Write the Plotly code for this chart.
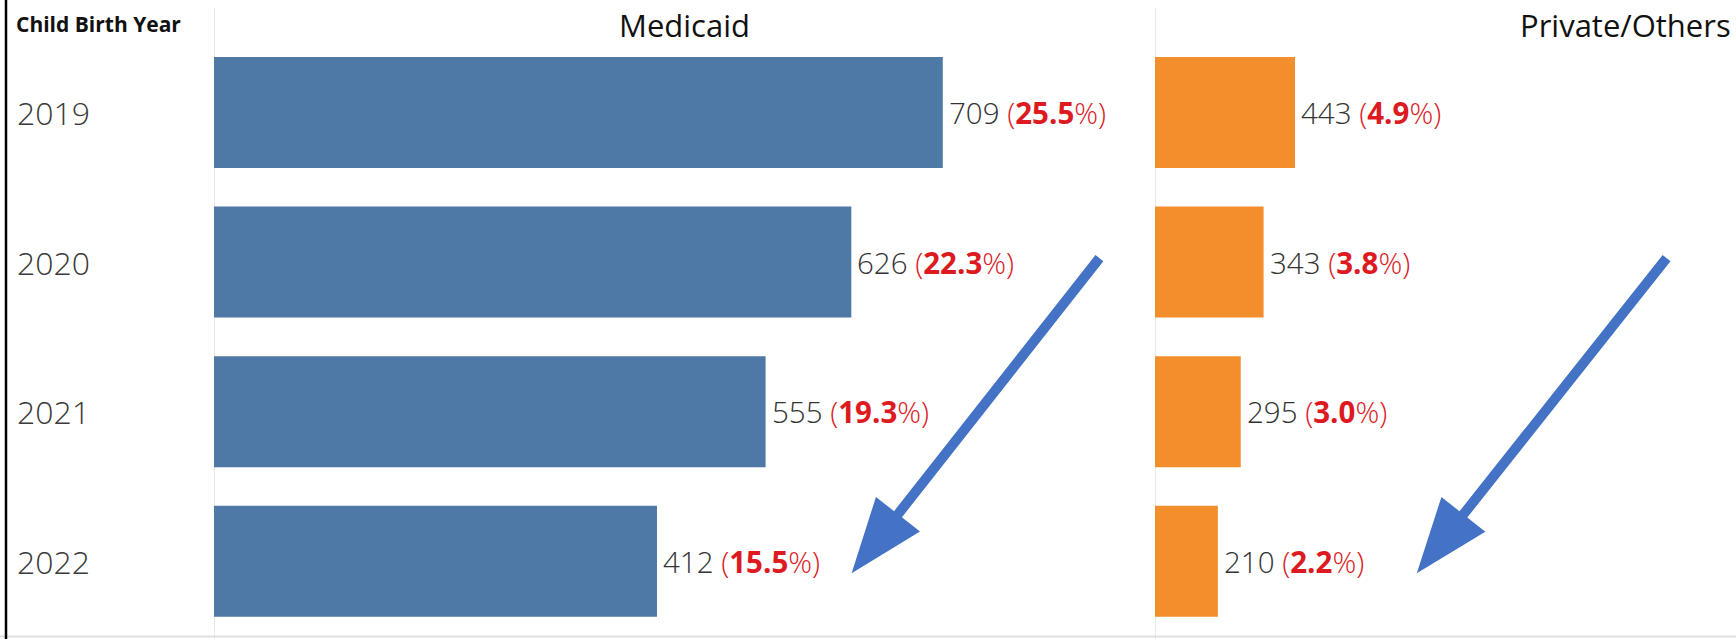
import math
import plotly.graph_objects as go

years = ["2019", "2020", "2021", "2022"]
medicaid_counts = [709, 626, 555, 412]
medicaid_pct = [25.5, 22.3, 19.3, 15.5]
private_counts = [443, 343, 295, 210]
private_pct = [4.9, 3.8, 3.0, 2.2]
panel_titles = ["Medicaid", "Private/Others"]
row_header = "Child Birth Year"

W, H = 1736, 639
PX_PER_PCT = 28.58
x1_left, x2_left = 214, 1155
top_row, bottom_row = 37.75, 636
row_h = (bottom_row - top_row) / len(years)

BLUE = "#4E79A7"
ORANGE = "#F28E2B"
RED = "#DC1A1F"
TEXT = "#333333"
ARROW = "#4472C4"
FONT = "Open Sans"

fig = go.Figure()
fig.add_trace(go.Bar(y=years, x=medicaid_pct, orientation="h", marker=dict(color=BLUE, line_width=0),
                     xaxis="x", yaxis="y", hoverinfo="skip"))
fig.add_trace(go.Bar(y=years, x=private_pct, orientation="h", marker=dict(color=ORANGE, line_width=0),
                     xaxis="x2", yaxis="y", hoverinfo="skip"))

annotations = []
shapes = []

def label(cnt, pct):
    return (f"<span style='color:{TEXT}'>{cnt}</span> "
            f"<span style='color:{RED}'>(<b>{pct:.1f}</b>%)</span>")

for xr, counts, pcts in (("x", medicaid_counts, medicaid_pct), ("x2", private_counts, private_pct)):
    for i, (c, p) in enumerate(zip(counts, pcts)):
        annotations.append(dict(x=p, y=i, xref=xr, yref="y", text=label(c, p), showarrow=False,
                                xanchor="left", yanchor="middle", xshift=4,
                                font=dict(family=FONT, size=29.5, color=TEXT, weight=300)))

for i, yv in enumerate(years):
    annotations.append(dict(x=15 / W, y=i, xref="paper", yref="y", text=yv, showarrow=False,
                            xanchor="left", yanchor="middle",
                            font=dict(family=FONT, size=32, color="#3a3a3a", weight=300)))

annotations.append(dict(x=14 / W, y=1 - 24 / H, xref="paper", yref="paper", text=f"<b>{row_header}</b>",
                        showarrow=False, xanchor="left", yanchor="middle",
                        font=dict(family=FONT, size=21, color="#111111")))

pane_w = x2_left - x1_left
for i, t in enumerate(panel_titles):
    cx = (x1_left + pane_w / 2) if i == 0 else (x2_left + pane_w / 2)
    annotations.append(dict(x=cx / W, y=1 - 25 / H, xref="paper", yref="paper", text=t, showarrow=False,
                            xanchor="center", yanchor="middle",
                            font=dict(family=FONT, size=31, color="#111111")))

# trend arrows (tail -> head) given in pane units (percent, row index)
def to_px(left, pct, idx):
    return left + pct * PX_PER_PCT, top_row + (idx + 0.5) * row_h

def arrow_path(tail, head, shaft=5.0, head_len=75.0, head_half=28.0):
    (tx, ty), (hx, hy) = tail, head
    d = math.hypot(hx - tx, hy - ty)
    ux, uy = (hx - tx) / d, (hy - ty) / d
    nx, ny = -uy, ux
    bx, by = hx - ux * head_len, hy - uy * head_len
    pts = [(tx + nx * shaft, ty + ny * shaft), (bx + nx * shaft, by + ny * shaft),
           (bx + nx * head_half, by + ny * head_half), (hx, hy),
           (bx - nx * head_half, by - ny * head_half), (bx - nx * shaft, by - ny * shaft),
           (tx - nx * shaft, ty - ny * shaft)]
    return "M " + " L ".join(f"{x / W:.5f},{1 - y / H:.5f}" for x, y in pts) + " Z"

for left, tail, head in ((x1_left, (30.98, 0.973), (22.31, 3.08)), (x2_left, (17.9, 0.973), (9.16, 3.08))):
    shapes.append(dict(type="path", xref="paper", yref="paper",
                       path=arrow_path(to_px(left, *tail), to_px(left, *head)),
                       fillcolor=ARROW, line=dict(width=0), layer="above"))

# pane dividers / frame
for xr in ("x", "x2"):
    shapes.append(dict(type="line", xref=xr, yref="paper", x0=0, x1=0, y0=0, y1=1 - 8 / H,
                       line=dict(color="#D4D4D4", width=1), layer="below"))
shapes.append(dict(type="line", xref="paper", yref="paper", x0=0, x1=1, y0=1 - 636.5 / H, y1=1 - 636.5 / H,
                   line=dict(color="#E0E0E0", width=2)))
shapes.append(dict(type="line", xref="paper", yref="paper", x0=6 / W, x1=6 / W, y0=0, y1=1,
                   line=dict(color="#000000", width=2.5)))

fig.update_layout(
    width=W, height=H, autosize=False,
    margin=dict(l=0, r=0, t=0, b=0),
    paper_bgcolor="white", plot_bgcolor="white",
    showlegend=False, bargap=0.258,
    xaxis=dict(domain=[x1_left / W, x2_left / W], range=[0, pane_w / PX_PER_PCT], visible=False,
               anchor="y"),
    xaxis2=dict(domain=[x2_left / W, 1], range=[0, (W - x2_left) / PX_PER_PCT], visible=False,
                anchor="y"),
    yaxis=dict(domain=[1 - bottom_row / H, 1 - top_row / H], type="category",
               categoryorder="array", categoryarray=years, range=[len(years) - 0.5, -0.5],
               autorange=False, visible=False),
    annotations=annotations, shapes=shapes,
)

fig.write_html("out.html", config={"displayModeBar": False},
               post_script="document.body.style.margin='0';")
